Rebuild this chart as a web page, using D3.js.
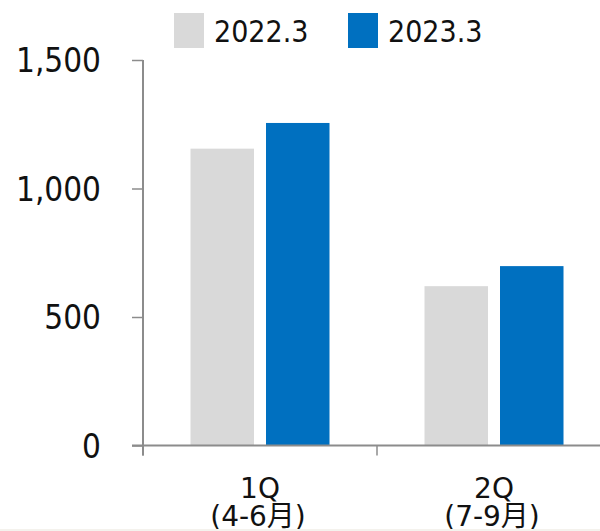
<!DOCTYPE html>
<html>
<head>
<meta charset="utf-8">
<script src="https://cdn.jsdelivr.net/npm/d3@7"></script>
<style>
  html, body { margin: 0; padding: 0; background: #fff; }
  svg { display: block; }
  text { font-family: "DejaVu Sans Condensed", "DejaVu Sans", "Noto Sans CJK JP", sans-serif; font-stretch: condensed; fill: #111; }
  text.cat { font-family: "DejaVu Sans", "Noto Sans CJK JP", sans-serif; font-stretch: normal; }
</style>
</head>
<body>
<svg id="chart" width="600" height="531"></svg>
<script>
// Quarterly values for the two fiscal years
const categories = ["1Q|(4-6月)", "2Q|(7-9月)"];
const seriesNames = ["2022.3", "2023.3"];
const values2022 = [1155, 620];
const values2023 = [1255, 698];
const yTicks = [0, 500, 1000, 1500];
const colors = ["#d9d9d9", "#0070c0"];

const svg = d3.select("#chart");
const W = 600, H = 531;

const x0 = 143, xEnd = 611, yBottom = 445.5, yTop = 60;

const x = d3.scaleBand().domain(categories).range([x0, xEnd]).paddingInner(0).paddingOuter(0);
const xs = d3.scaleBand().domain(seriesNames).range([0, x.bandwidth()]).paddingInner(0.159).paddingOuter(0.629);
const y = d3.scaleLinear().domain([0, 1500]).range([yBottom, yTop]);

const data = categories.map((c, i) => ({ cat: c, vals: [values2022[i], values2023[i]] }));

// bars
const groups = svg.append("g").selectAll("g").data(data).join("g")
  .attr("transform", d => `translate(${x(d.cat)},0)`);
groups.selectAll("rect").data(d => d.vals.map((v, k) => ({ name: seriesNames[k], v, k })))
  .join("rect")
  .attr("x", d => xs(d.name))
  .attr("width", xs.bandwidth())
  .attr("y", d => y(d.v))
  .attr("height", d => y(0) - y(d.v))
  .attr("fill", d => colors[d.k]);

// y axis
const yAxis = d3.axisLeft(y).tickValues(yTicks).tickSize(11).tickPadding(31)
  .tickFormat(d3.format(","));
const gy = svg.append("g").attr("transform", `translate(${x0},0)`).call(yAxis);
gy.select(".domain").attr("stroke", "#8c8c8c").attr("stroke-width", 2).attr("d", `M0,${yTop}V${yBottom + 10}`);
gy.selectAll(".tick line").attr("stroke", "#8c8c8c").attr("stroke-width", 1.5);
gy.selectAll(".tick text").style("font-size", "33px").attr("dy", "0.36em").attr("fill", "#111");

// x axis
const gx = svg.append("g").attr("transform", `translate(0,${yBottom})`);
gx.append("line").attr("x1", 132).attr("x2", W).attr("y1", 0).attr("y2", 0)
  .attr("stroke", "#8c8c8c").attr("stroke-width", 2);
gx.selectAll(".xtick").data(categories.concat(["end"])).join("line")
  .attr("x1", (d, i) => x0 + i * x.bandwidth()).attr("x2", (d, i) => x0 + i * x.bandwidth())
  .attr("y1", 0).attr("y2", 10).attr("stroke", "#8c8c8c").attr("stroke-width", 1.5);

// two-line category labels
const xl = svg.append("g").selectAll("text").data(categories).join("text")
  .attr("class", "cat")
  .attr("text-anchor", "middle")
  .style("font-size", "28px")
  .attr("transform", d => `translate(${x(d) + x.bandwidth() / 2},0)`);
xl.each(function (d) {
  const parts = d.split("|");
  const t = d3.select(this);
  t.append("tspan").attr("x", 0).attr("y", 498).text(parts[0]);
  t.append("tspan").attr("x", -2).attr("y", 526).text(parts[1]);
});

// legend
const legX = [174, 348];
const leg = svg.append("g").selectAll("g").data(seriesNames).join("g")
  .attr("transform", (d, i) => `translate(${legX[i]},13)`);
leg.append("rect").attr("width", 30).attr("height", 35).attr("fill", (d, i) => colors[i]);
leg.append("text").attr("x", 40).attr("y", 29).style("font-size", "30px").text(d => d);

// faint bottom edge
svg.append("rect").attr("x", 0).attr("y", 529).attr("width", W).attr("height", 2).attr("fill", "#f4f2ed");
</script>
</body>
</html>
